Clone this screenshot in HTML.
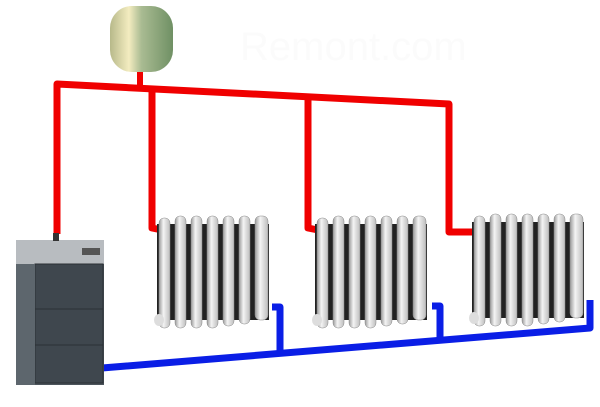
<!DOCTYPE html>
<html><head><meta charset="utf-8"><style>html,body{margin:0;padding:0;background:#fff;width:600px;height:407px;overflow:hidden}</style></head><body>
<svg width="600" height="407" viewBox="0 0 600 407" xmlns="http://www.w3.org/2000/svg">
<defs>
<linearGradient id="tank" x1="0" x2="1"><stop offset="0" stop-color="#b7b98a"/><stop offset="0.3" stop-color="#f3ecc0"/><stop offset="0.5" stop-color="#a9bb92"/><stop offset="1" stop-color="#6f9064"/></linearGradient>
<linearGradient id="fin" x1="0" x2="1"><stop offset="0" stop-color="#9a9a9a"/><stop offset="0.4" stop-color="#f4f4f4"/><stop offset="1" stop-color="#bdbdbd"/></linearGradient>
<g id="rad">
<rect x="2" y="8" width="112" height="96" fill="#222"/>
<g fill="url(#fin)" stroke="#888" stroke-width="0.5">
<rect x="4" y="2" width="11" height="110" rx="5"/><rect x="20" y="0" width="11" height="112" rx="5"/><rect x="36" y="0" width="11" height="112" rx="5"/><rect x="52" y="0" width="11" height="112" rx="5"/><rect x="68" y="0" width="11" height="110" rx="5"/><rect x="84" y="0" width="11" height="108" rx="5"/><rect x="100" y="0" width="13" height="104" rx="5"/>
</g>
<ellipse cx="4" cy="104" rx="5" ry="6" fill="#ddd"/>
</g>
</defs>
<text x="240" y="60" font-family="Liberation Sans, sans-serif" font-size="40" fill="#fbfbfb">Remont.com</text>
<g stroke="#f00000" stroke-width="7" fill="none" stroke-linejoin="round">
<polyline points="57,234 57,84 449,104 449,232 474,232"/>
<polyline points="152,88 152,228 162,230"/>
<polyline points="308,96 308,228 318,230"/>
<line x1="140" y1="72" x2="140" y2="88" stroke-width="6"/>
</g>
<rect x="110" y="6" width="63" height="66" rx="22" fill="url(#tank)"/>
<use href="#rad" x="155" y="216"/>
<use href="#rad" x="313" y="216"/>
<use href="#rad" x="470" y="214"/>
<g stroke="#0a1ee6" stroke-width="7" fill="none" stroke-linejoin="round">
<polyline points="102,368 590,328 590,300"/>
<polyline points="272,307 280,307 280,352"/>
<polyline points="432,306 440,306 440,339"/>
</g>
<rect x="16" y="240" width="88" height="145" fill="#4c555c"/>
<rect x="16" y="240" width="88" height="24" fill="#b8bcc0"/>
<rect x="82" y="248" width="18" height="7" fill="#555"/>
<rect x="35" y="264" width="68" height="45" fill="#3f474e" stroke="#2b3035"/>
<rect x="35" y="309" width="68" height="36" fill="#3f474e" stroke="#2b3035"/>
<rect x="35" y="345" width="68" height="38" fill="#3f474e" stroke="#2b3035"/>
<rect x="16" y="264" width="19" height="121" fill="#5d666d"/>
<rect x="53" y="233" width="6" height="8" fill="#333"/>
</svg>
</body></html>
